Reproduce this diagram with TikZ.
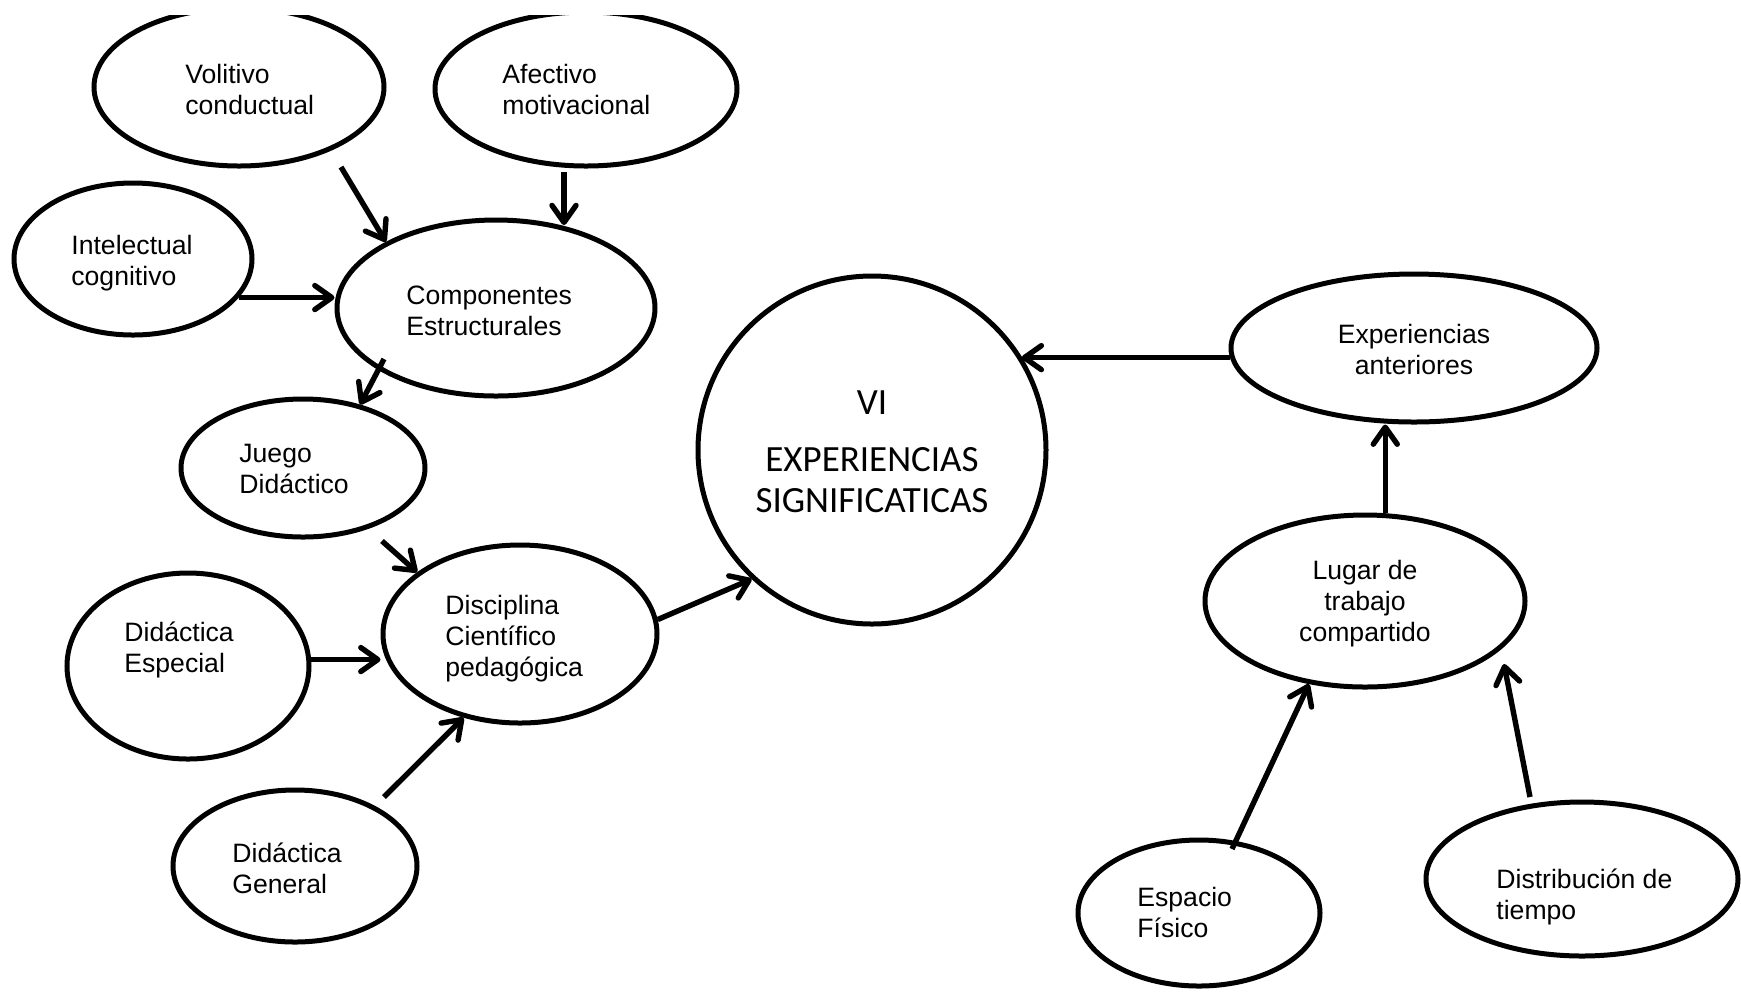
\documentclass[tikz,border=0pt]{standalone}
\usepackage{fontspec}
\setmainfont{Liberation Sans}
\newfontfamily\calib{Carlito}
\usetikzlibrary{arrows.meta,shapes.geometric}
\tikzset{
  oval/.style={draw, ellipse, line width=2.5pt, inner sep=0pt},
  lbl/.style={inner sep=0pt, align=left, anchor=base west, font=\fontsize{13.3pt}{15.5pt}\selectfont},
  clbl/.style={inner sep=0pt, align=center, anchor=base, font=\fontsize{13.3pt}{15.5pt}\selectfont},
  arr/.style={line width=2.7pt, -{Straight Barb[length=8.5pt,width=12pt,round]}}
}
\begin{document}
\begin{tikzpicture}[x=0.5pt,y=-0.5pt]
\useasboundingbox (0,0) rectangle (1741,993);
\begin{scope}
\clip (0,15.5) rectangle (1741,993);
% ellipses
\node[oval, minimum width=145pt, minimum height=79pt] (vol) at (239,87) {};
\node[oval, minimum width=151pt, minimum height=77pt] (afe) at (586,89) {};
\node[oval, minimum width=119pt, minimum height=76pt] (int) at (133,259) {};
\node[oval, minimum width=159pt, minimum height=88pt] (comp) at (496,308) {};
\node[oval, minimum width=122pt, minimum height=69pt] (jue) at (303,468) {};
\node[oval, minimum width=137pt, minimum height=89pt] (disc) at (520,634) {};
\node[oval, minimum width=121pt, minimum height=93pt] (desp) at (188,666) {};
\node[oval, minimum width=122pt, minimum height=76pt] (dgen) at (295,866) {};
\node[oval, minimum width=174pt, minimum height=174pt] (vi) at (872,450) {};
\node[oval, minimum width=183pt, minimum height=74pt] (expa) at (1414,348) {};
\node[oval, minimum width=160pt, minimum height=86pt] (lug) at (1365,601) {};
\node[oval, minimum width=121pt, minimum height=73pt] (esp) at (1199,913) {};
\node[oval, minimum width=156pt, minimum height=77pt] (dist) at (1582,879) {};
% texts (anchored at the baseline of the last line)
\node[lbl] (volt) at (185,114) {Volitivo\\conductual};
\node[lbl] (afet) at (502,114) {Afectivo\\motivacional};
\node[lbl] (intt) at (71,285) {Intelectual\\cognitivo};
\node[lbl] (compt) at (406,335) {Componentes\\Estructurales};
\node[lbl] (juet) at (239,493) {Juego\\Didáctico};
\node[lbl] (disct) at (445,676) {Disciplina\\Científico\\pedagógica};
\node[lbl] (despt) at (124,672) {Didáctica\\Especial};
\node[lbl] (dgent) at (232,893) {Didáctica\\General};
\node[lbl] (espt) at (1137,937) {Espacio\\Físico};
\node[lbl] (distt) at (1496,919) {Distribución de\\tiempo};
\node[clbl] (expat) at (1414,374) {Experiencias\\anteriores};
\node[clbl] (lugt) at (1365,641) {Lugar de\\trabajo\\compartido};
\node[inner sep=0pt, align=center, anchor=base, font=\calib\fontsize{18.5pt}{20.5pt}\selectfont] (vit) at (872,512) {VI\\[8pt]EXPERIENCIAS\\SIGNIFICATICAS};
% free ends
\coordinate (s1) at (341,167);
\coordinate (s2) at (564,172);
\coordinate (s4) at (384,359);
\coordinate (s5) at (382,541);
\coordinate (s7) at (384,797);
\coordinate (s11) at (1232,849);
\coordinate (s12) at (1530,797);
\coordinate (e12) at (1504,664);
% connectors
\draw[arr] (s1) -- (comp.149);
\draw[arr] (s2) -- (s2 |- comp.52);
\draw[arr] (int.-20) -- (int.-20 -| comp.west);
\draw[arr] (s4) -- (jue.48);
\draw[arr] (s5) -- (disc.149);
\draw[arr] (desp.3) -- (desp.3 -| disc.west);
\draw[arr] (s7) -- (disc.-124);
\draw[arr] (disc.6) -- (vi.-133);
\draw[arr] (expa.183) -- (expa.183 -| vi.32);
\draw[arr] (lug.77) -- (lug.77 |- expa.south);
\draw[arr] (s11) -- (lug.-124);
\draw[arr] (s12) -- (e12);
\end{scope}
\end{tikzpicture}
\end{document}
